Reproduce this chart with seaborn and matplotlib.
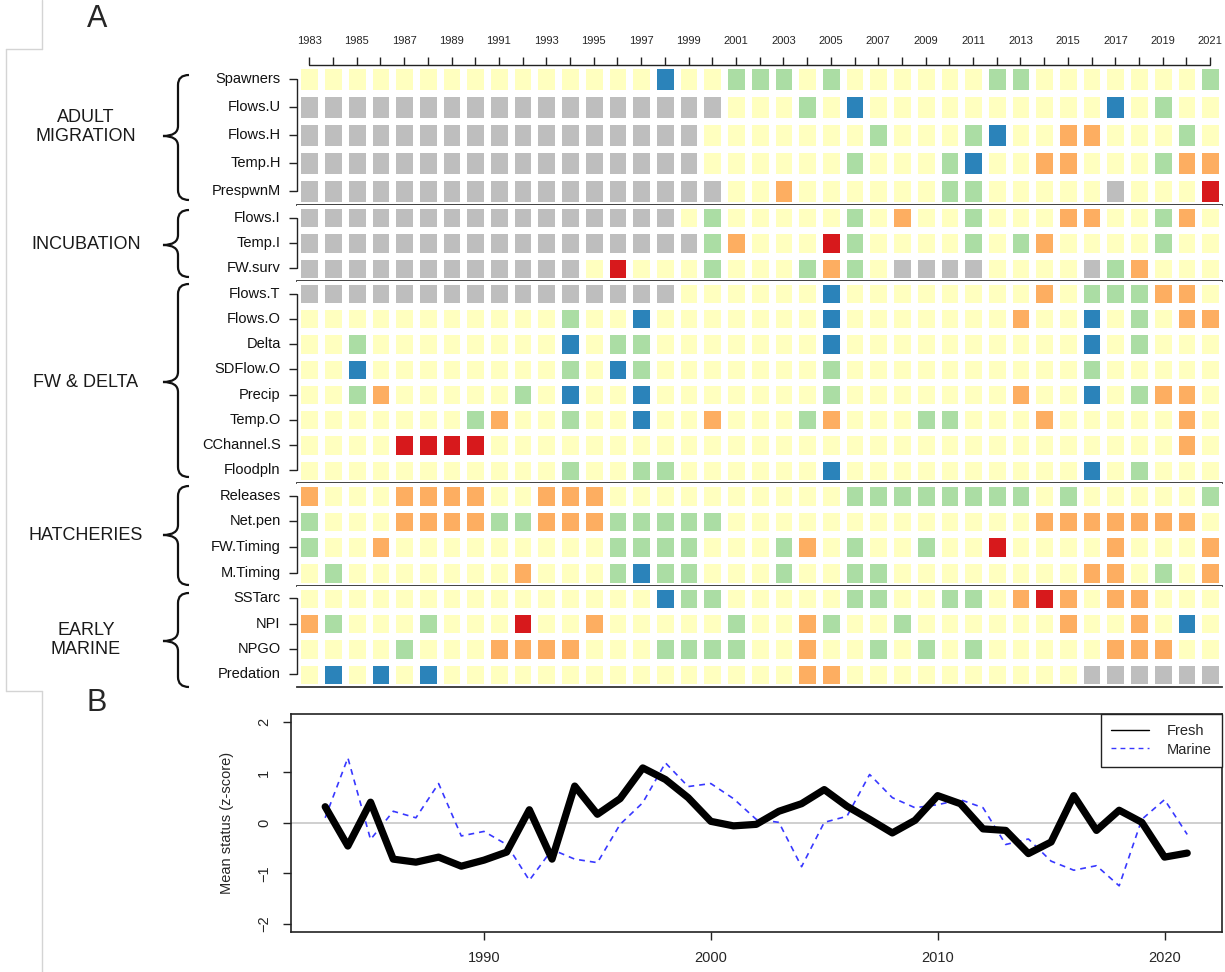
import numpy as np
import pandas as pd
import matplotlib
matplotlib.use("Agg")
import matplotlib.pyplot as plt
import seaborn as sns
from matplotlib.colors import ListedColormap
from matplotlib.lines import Line2D
from matplotlib.path import Path
from matplotlib.patches import PathPatch

W, H = 1225, 972

years = list(range(1983, 2022))

# status code per year, grouped in blocks of 5 years from 1983
# N = no data, R = poor, O, Y = neutral, G, B = good
adult_rows = ["Spawners", "Flows.U", "Flows.H", "Temp.H", "PrespwnM"]
adult_codes = [
    "YYYYY YYYYY YYYYY BYYGG GYGYY YYYYG GYYYY YYYG",
    "NNNNN NNNNN NNNNN NNNYY YGYBY YYYYY YYYYB YGYY",
    "NNNNN NNNNN NNNNN NNYYY YYYYG YYYGB YYOOY YYGY",
    "NNNNN NNNNN NNNNN NNYYY YYYGY YYGBY YOOYY YGOO",
    "NNNNN NNNNN NNNNN NNNYY OYYYY YYGGY YYYYN YYYR",
]

incub_rows = ["Flows.I", "Temp.I", "FW.surv"]
incub_codes = [
    "NNNNN NNNNN NNNNN NYGYY YYYGY OYYGY YYOOY YGOY",
    "NNNNN NNNNN NNNNN NNGOY YYRGY YYYGY GOYYY YGYY",
    "NNNNN NNNNN NNYRY YYGYY YGOGY NNNNY YYYNG OYYY",
]

fw_rows = ["Flows.T", "Flows.O", "Delta", "SDFlow.O", "Precip", "Temp.O",
           "CChannel.S", "Floodpln"]
fw_codes = [
    "NNNNN NNNNN NNNNN NYYYY YYBYY YYYYY YOYGG GOOY",
    "YYYYY YYYYY YGYYB YYYYY YYBYY YYYYY OYYBY GYOO",
    "YYGYY YYYYY YBYGG YYYYY YYBYY YYYYY YYYBY GYYY",
    "YYBYY YYYYY YGYBG YYYYY YYGYY YYYYY YYYGY YYYY",
    "YYGOY YYYYG YBYYB YYYYY YYGYY YYYYY OYYBY GOOY",
    "YYYYY YYGOY YGYYB YYOYY YGOYY YGGYY YOYYY YYOY",
    "YYYYR RRRYY YYYYY YYYYY YYYYY YYYYY YYYYY YYOY",
    "YYYYY YYYYY YGYYG GYYYY YYBYY YYYYY YYYBY GYYY",
]

hatch_rows = ["Releases", "Net.pen", "FW.Timing", "M.Timing"]
hatch_codes = [
    "OYYYO OOOYY OOOYY YYYYY YYYGG GGGGG GYGYY YYYG",
    "GYYYO OOOGG OOOGG GGGYY YYYYY YYYYY YOOOO OOOY",
    "GYYOY YYYYY YYYGG GGYYY GOYGY YGYYR YYYYO YYYO",
    "YGYYY YYYYO YYYGB GGYYY GYYGG YYYYY YYYOO YGYO",
]

marine_rows = ["SSTarc", "NPI", "NPGO", "Predation"]
marine_codes = [
    "YYYYY YYYYY YYYYY BGGYY YYYGG YYGGY OROYO OYYY",
    "OGYYY GYYYR YYOYY YYYGY YOGYY GYYYY YYOYY OYBY",
    "YYYYG YYYOO OOYYY GGGGY YOYYG YGYGY YYYYO OOYY",
    "YBYBY BYYYY YYYYY YYYYY YOOYY YYYYY YYYNN NNNN",
]

# mean status, panel B
fresh = [0.32, -0.46, 0.41, -0.72, -0.78, -0.68, -0.86, -0.74, -0.58, 0.26,
         -0.72, 0.73, 0.17, 0.48, 1.09, 0.86, 0.50, 0.03, -0.06, -0.03,
         0.23, 0.38, 0.66, 0.33, 0.07, -0.20, 0.05, 0.54, 0.38, -0.12,
         -0.15, -0.61, -0.38, 0.54, -0.15, 0.25, 0.01, -0.68, -0.60]
marine = [0.10, 1.29, -0.33, 0.23, 0.10, 0.78, -0.26, -0.17, -0.43, -1.14,
          -0.53, -0.72, -0.79, -0.03, 0.40, 1.19, 0.72, 0.78, 0.48, 0.07,
          0.01, -0.87, 0.01, 0.13, 0.96, 0.50, 0.30, 0.36, 0.46, 0.30,
          -0.43, -0.32, -0.76, -0.94, -0.85, -1.25, 0.07, 0.46, -0.23]

code_num = {"N": 0, "R": 1, "O": 2, "Y": 3, "G": 4, "B": 5}
status_colors = ["#bebebe", "#d7191c", "#fdae61", "#ffffbf", "#abdda4", "#2b83ba"]
cmap = ListedColormap(status_colors)

sns.set_theme(style="white")
plt.rcParams["font.family"] = ["Liberation Sans", "DejaVu Sans"]
plt.rcParams["axes.edgecolor"] = "#222222"


def fig_rect(x0, y0, x1, y1):
    return [x0 / W, 1 - y1 / H, (x1 - x0) / W, (y1 - y0) / H]


fig = plt.figure(figsize=(W / 100, H / 100), dpi=100)

# overlay in pixel coords for braces, group names, frame bits
ov = fig.add_axes([0, 0, 1, 1])
ov.set_xlim(0, W)
ov.set_ylim(H, 0)
ov.axis("off")

frame_col = "#d4d4d4"
for xs, ys in [([42, 42], [0, 49]), ([6, 42], [49, 49]), ([6, 6], [49, 691]),
               ([6, 42], [691, 691]), ([42, 42], [691, H])]:
    ov.plot(xs, ys, color=frame_col, lw=1)

ov.text(97, 19, "A", fontsize=22, ha="center", va="center")
ov.text(97, 703, "B", fontsize=22, ha="center", va="center")


def brace(y0, y1, ym, xr=189, xm=178, xt=163, r=10):
    verts = [(xr, y0), (xm, y0), (xm, y0 + r),
             (xm, ym - r), (xm, ym), (xt, ym),
             (xm, ym), (xm, ym + r),
             (xm, y1 - r), (xm, y1), (xr, y1)]
    codes = [Path.MOVETO, Path.CURVE3, Path.CURVE3,
             Path.LINETO, Path.CURVE3, Path.CURVE3,
             Path.CURVE3, Path.CURVE3,
             Path.LINETO, Path.CURVE3, Path.CURVE3]
    ov.add_patch(PathPatch(Path(verts, codes), fill=False, lw=1.6,
                           edgecolor="#111111"))


X0, X1 = 297.4, 1222
panels = [
    (adult_rows, adult_codes, 65, 205, "ADULT\nMIGRATION", 127, (75, 200, 136)),
    (incub_rows, incub_codes, 205, 281, "INCUBATION", 244, (210, 277, 245)),
    (fw_rows, fw_codes, 281, 483, "FW & DELTA", 382, (284, 477, 382)),
    (hatch_rows, hatch_codes, 483, 585.5, "HATCHERIES", 535, (486, 585, 535)),
    (marine_rows, marine_codes, 585.5, 687, "EARLY\nMARINE", 640, (593, 687, 641)),
]

for i, (rows, codes, top, bottom, group, gy, br) in enumerate(panels):
    mat = np.array([[code_num[c] for c in row.replace(" ", "")] for row in codes])
    assert mat.shape[1] == len(years)
    df = pd.DataFrame(mat, index=rows, columns=years)
    ax = fig.add_axes(fig_rect(X0, top, X1, bottom))
    sns.heatmap(df, ax=ax, cmap=cmap, vmin=-0.5, vmax=5.5, cbar=False,
                linewidths=5, linecolor="white", xticklabels=False,
                yticklabels=rows)
    n = len(rows)
    ax.set_yticks(np.arange(n) + 0.5)
    ax.set_yticklabels(rows, rotation=0, fontsize=10.5, color="#111111")
    ax.tick_params(axis="y", left=True, length=6, width=1, pad=6,
                   color="#222222")
    ax.spines["bottom"].set_visible(True)
    ax.spines["bottom"].set_linewidth(1.3)
    ax.spines["bottom"].set_color("#333333")
    ax.plot([0, 0], [0.5, n - 0.5], color="#222222", lw=1, clip_on=False)
    if i == 0:
        ax.xaxis.tick_top()
        ax.set_xticks(np.arange(len(years)) + 0.5)
        ax.set_xticklabels([str(y) if y % 2 == 1 else "" for y in years],
                           rotation=0, fontsize=8)
        ax.tick_params(axis="x", top=True, bottom=False, length=6, width=1,
                       pad=8, color="#222222")
        ax.plot([0.5, len(years) - 0.5], [0, 0], color="#222222", lw=1,
                clip_on=False)
    ax.set_xlim(0, len(years))
    ax.set_ylim(n, 0)
    ax.set_xlabel("")
    ax.set_ylabel("")

    ov.text(86, gy, group, fontsize=13, ha="center", va="center",
            linespacing=1.2, color="#1a1a1a")
    brace(*br)

# panel B
axb = fig.add_axes(fig_rect(290.7, 714, 1221.7, 931.7))
axb.axhline(0, color="#cccccc", lw=1.3, zorder=0)
sns.lineplot(x=years, y=marine, ax=axb, color="#3838ff", lw=1.2)
axb.lines[-1].set_linestyle((0, (3.5, 3)))
sns.lineplot(x=years, y=fresh, ax=axb, color="black", lw=5.2)
axb.lines[-1].set_solid_capstyle("round")
axb.lines[-1].set_solid_joinstyle("round")
axb.set_xlim(1981.48, 2022.52)
axb.set_ylim(-2.16, 2.16)
axb.set_xticks([1990, 2000, 2010, 2020])
axb.set_yticks([-2, -1, 0, 1, 2])
axb.tick_params(axis="both", bottom=True, left=True, length=6, width=1,
                pad=8, labelsize=10.5, color="#222222")
axb.tick_params(axis="y", labelrotation=90)
for lab in axb.get_yticklabels():
    lab.set_va("center")
for sp in axb.spines.values():
    sp.set_visible(True)
    sp.set_linewidth(1.2)
    sp.set_color("#222222")
axb.set_ylabel("Mean status (z-score)", fontsize=10.5)
axb.yaxis.set_label_coords((227 - 290.7) / 931, 0.5)
axb.yaxis.label.set_va("center")

handles = [Line2D([], [], color="black", lw=1),
           Line2D([], [], color="#3838ff", lw=1, linestyle=(0, (3.5, 3)))]
leg = axb.legend(handles, ["Fresh", "Marine"], loc="upper right",
                 borderaxespad=0, fontsize=10.5, frameon=True, fancybox=False,
                 framealpha=1, edgecolor="#222222", handlelength=2.6,
                 borderpad=0.7, labelspacing=0.3, handletextpad=1.2)
leg.get_frame().set_linewidth(1)

fig.savefig("out.png", dpi=100, facecolor="white")
